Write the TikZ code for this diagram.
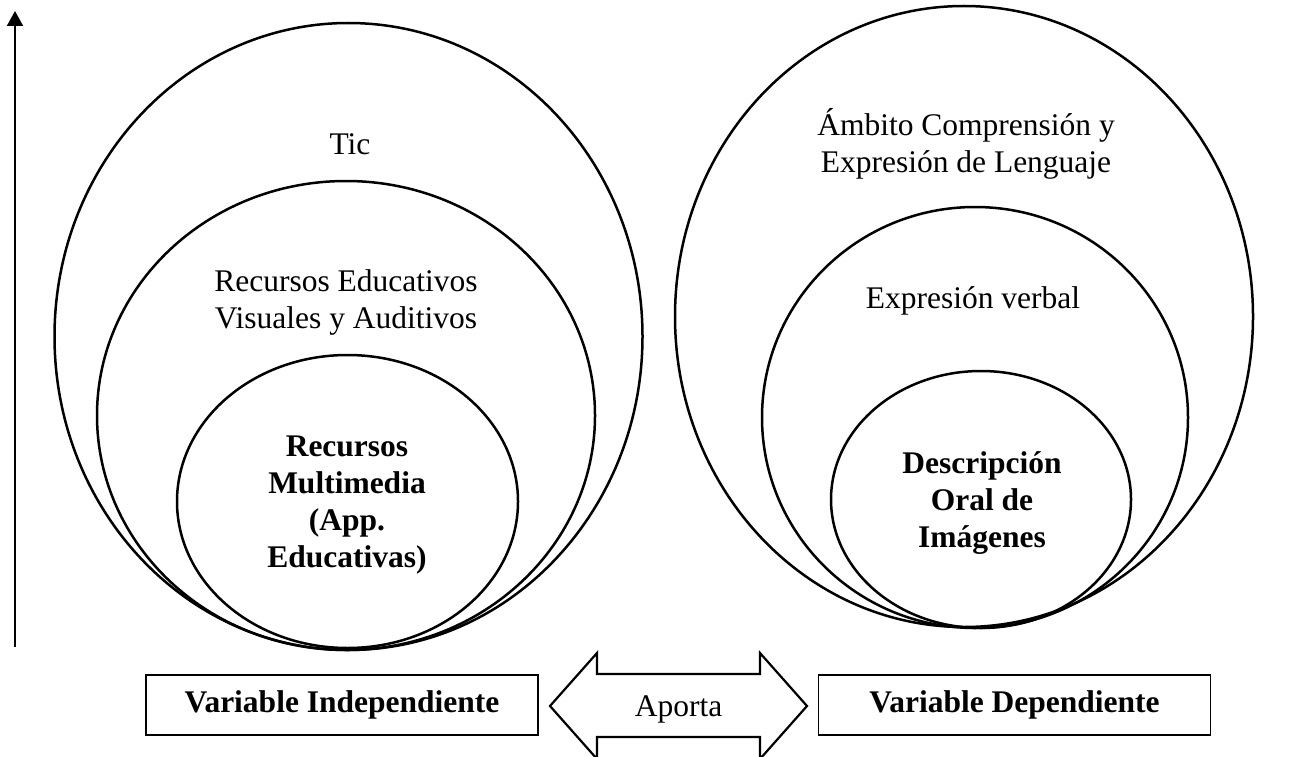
\documentclass[tikz,border=0pt]{standalone}
\usepackage{fontspec}
\setmainfont{Liberation Serif}
\usetikzlibrary{shapes.geometric,arrows.meta}
\tikzset{
  ring/.style={draw, ellipse, line width=2.5pt, inner sep=0pt},
  lbl/.style={align=center, font=\fontsize{31.5}{37}\selectfont, inner sep=0pt},
  blbl/.style={lbl, font=\fontsize{31.5}{37}\selectfont\bfseries},
  varbox/.style={draw, line width=1.7pt, minimum height=60pt, minimum width=392pt, inner sep=0pt, font=\fontsize{31.5}{37}\selectfont\bfseries},
  bigarrow/.style={draw, line width=2.2pt, line join=miter},
}
\begin{document}
\begin{tikzpicture}[x=1pt, y=-1pt]
\useasboundingbox (0,0) rectangle (1292,757);
\clip (0,0) rectangle (1292,757);
% left set of ellipses
\node[ring, minimum width=588pt, minimum height=627pt] (tic) at (348.5,336.5) {};
\node[ring, minimum width=498pt, minimum height=469pt] (rev) at (346,415.5) {};
\node[ring, minimum width=341pt, minimum height=293pt] (rm) at (347.5,501.5) {};
\node[lbl, anchor=base] (tictxt) at (350,154) {Tic};
\node[lbl] (revtxt) at (346,302) {Recursos Educativos\\Visuales y Auditivos};
\node[blbl] (rmtxt) at (347,505) {Recursos\\Multimedia\\(App.\\Educativas)};
% right set of ellipses
\node[ring, minimum width=578pt, minimum height=621pt] (amb) at (964,316.5) {};
\node[ring, minimum width=426pt, minimum height=421pt] (ev) at (975,417.5) {};
\node[ring, minimum width=300pt, minimum height=257pt] (doi) at (981,499.5) {};
\node[lbl] (ambtxt) at (966,144) {Ámbito Comprensión y\\Expresión de Lenguaje};
\node[lbl, anchor=base] (evtxt) at (973,308) {Expresión verbal};
\node[blbl] (doitxt) at (982,503) {Descripción\\Oral de\\Imágenes};
% vertical arrow
\coordinate (vb) at (15,647);
\coordinate (vt) at (15,11);
\draw[line width=2pt, -{Triangle[width=16pt,length=15pt]}] (vb) -- (vt);
% boxes
\node[varbox] (vi) at (342,705) {Variable Independiente};
\node[varbox] (vd) at (1014.5,705) {Variable Dependiente};
% double arrow
\draw[bigarrow] (550,706) -- (597,653) -- (597,674) -- (760,674) -- (760,653) -- (807,706)
  -- (760,759) -- (760,737) -- (597,737) -- (597,759) -- cycle;
\node[lbl] (ap) at (678.5,709) {Aporta};
\end{tikzpicture}
\end{document}
